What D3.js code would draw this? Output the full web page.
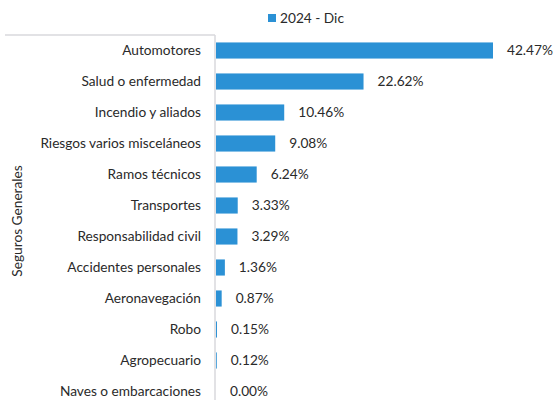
<!DOCTYPE html>
<html>
<head>
<meta charset="utf-8">
<title>Seguros Generales 2024 - Dic</title>
<style>
  body { margin: 0; background: #fff; }
  svg text { font-family: Lato, "Open Sans", sans-serif; fill: #2a2a2a; }
</style>
</head>
<body>
<script src="https://d3js.org/d3.v7.min.js"></script>
<script>
  // data
  const categories = ['Automotores', 'Salud o enfermedad', 'Incendio y aliados',
    'Riesgos varios misceláneos', 'Ramos técnicos', 'Transportes',
    'Responsabilidad civil', 'Accidentes personales', 'Aeronavegación',
    'Robo', 'Agropecuario', 'Naves o embarcaciones'];
  const values = [42.47, 22.62, 10.46, 9.08, 6.24, 3.33, 3.29, 1.36, 0.87, 0.15, 0.12, 0.00];
  const groupLabel = 'Seguros Generales';
  const seriesName = '2024 - Dic';

  const w = 555, h = 400;
  const barColor = '#2b91d5';
  const lineColor = '#d9d9dd';
  const fs = '13.7px';

  const svg = d3.select('body').append('svg')
    .attr('width', w).attr('height', h);

  const x = d3.scaleLinear().domain([0, 45]).range([216, 509.5]);
  const y = d3.scaleBand().domain(categories).range([35, 407]).paddingInner(0.48).paddingOuter(0.24);

  // bars
  svg.selectAll('rect.bar')
    .data(values)
    .enter()
    .append('rect')
    .attr('class', 'bar')
    .attr('x', x(0))
    .attr('y', (d, i) => y(categories[i]))
    .attr('width', d => x(d) - x(0))
    .attr('height', y.bandwidth())
    .attr('fill', barColor);

  // value labels
  svg.selectAll('text.val')
    .data(values)
    .enter()
    .append('text')
    .attr('class', 'val')
    .attr('x', d => x(d) + 14)
    .attr('y', (d, i) => y(categories[i]) + y.bandwidth() / 2)
    .attr('dy', '0.35em')
    .style('font-size', fs)
    .text(d => d.toFixed(2) + '%');

  // category axis (no ticks, just the line)
  const yAxis = svg.append('g')
    .attr('transform', `translate(${x(0) - 1},0)`)
    .call(d3.axisLeft(y).tickSize(0).tickPadding(14));
  yAxis.select('.domain').attr('stroke', lineColor).attr('stroke-width', 1.5)
    .attr('d', `M0,${y.range()[0]}V${h}`);
  yAxis.selectAll('text')
    .style('font-size', fs)
    .style('font-family', 'Lato, sans-serif')
    .attr('fill', '#2a2a2a');

  // group bracket line at top
  svg.append('line')
    .attr('x1', 5).attr('x2', x(0) - 1)
    .attr('y1', y.range()[0]).attr('y2', y.range()[0])
    .attr('stroke', lineColor).attr('stroke-width', 1.5);

  // group label
  svg.append('text')
    .attr('transform', `translate(17,${(y.range()[0] + y.range()[1]) / 2}) rotate(-90)`)
    .attr('text-anchor', 'middle')
    .attr('dy', '0.35em')
    .style('font-size', fs)
    .text(groupLabel);

  // legend
  const lg = svg.append('g').attr('transform', 'translate(268,14)');
  lg.append('rect').attr('width', 8).attr('height', 8).attr('fill', barColor);
  lg.append('text').attr('x', 12).attr('y', 4).attr('dy', '0.35em')
    .style('font-size', fs).text(seriesName);
</script>
</body>
</html>
